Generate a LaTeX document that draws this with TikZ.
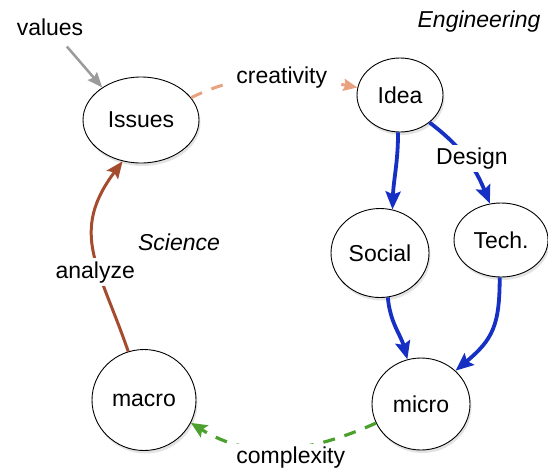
\documentclass[tikz,border=0pt]{standalone}
\usepackage{fontspec}
\setmainfont{Liberation Sans}
\usepackage{tikz}
\usetikzlibrary{shapes,arrows.meta,shadows}
\definecolor{flowblue}{RGB}{22,48,196}
\definecolor{rust}{RGB}{165,76,46}
\definecolor{salmon}{RGB}{232,162,128}
\definecolor{leaf}{RGB}{76,160,46}
\definecolor{ash}{RGB}{155,155,155}

\begin{document}
\begin{tikzpicture}[
    x=1pt, y=1pt,
    every node/.style={font=\fontsize{23}{27}\selectfont},
    bubble/.style={draw, ellipse, fill=white, inner sep=0pt, line width=0.9pt,
        drop shadow={opacity=0.22, shadow xshift=1.5pt, shadow yshift=-3pt}},
    lbl/.style={fill=white, inner xsep=7pt, inner ysep=3pt},
    arrow/.style={-{Stealth[length=18pt, width=15pt, inset=3pt]}, line width=3.8pt, draw=flowblue},
    analysis/.style={-{Stealth[length=17pt, width=14pt, inset=3pt]}, line width=3pt, draw=rust},
    spark/.style={-{Stealth[length=14pt, width=12pt, inset=2pt]}, line width=3pt, draw=salmon, dash pattern=on 12pt off 10pt},
    cascade/.style={-{Stealth[length=16pt, width=14pt, inset=3pt]}, line width=3.2pt, draw=leaf, dash pattern=on 12pt off 10pt},
    valuein/.style={-{Stealth[length=15pt, width=12pt, inset=2pt]}, line width=2.5pt, draw=ash, shorten <=10pt}
]
\useasboundingbox (0,0) rectangle (548,-472);

% Bubbles
\node[bubble, minimum width=116pt, minimum height=86pt] (issues) at (141,-120) {Issues};
\node[bubble, minimum width=86pt, minimum height=74pt] (idea) at (400,-95) {Idea};
\node[bubble, minimum width=98pt, minimum height=89pt] (social) at (380,-253) {Social};
\node[bubble, minimum width=94pt, minimum height=74pt] (tech) at (501,-240) {Tech.};
\node[bubble, minimum width=104pt, minimum height=101pt] (macro) at (144,-400) {macro};
\node[bubble, minimum width=98pt, minimum height=92pt] (micro) at (421,-404) {micro};

% Texts
\node (values) at (50,-27) {values};
\node[font=\fontsize{23}{27}\selectfont\itshape] (engineering) at (479,-22) {Engineering};
\node[font=\fontsize{23}{27}\selectfont\itshape] (science) at (179,-242) {Science};

% Connections
\draw[valuein] (values) -- (issues.140);
\draw[spark] (issues.24) to[out=26, in=169] node[lbl, pos=0.56] (creativity) {creativity} (idea.170);
\draw[arrow] (idea.-93) to[out=-90, in=88] (social.74);
\draw[arrow] (idea.-43) to[out=-37, in=112] node[lbl, inner xsep=2pt, pos=0.5, xshift=6pt] (design) {Design} (tech.107);
\draw[arrow] (social.-80) to[out=-85, in=105] (micro.107);
\draw[arrow] (tech.-92) to[out=-90, in=40, looseness=1.2] (micro.44);
\draw[cascade] (micro.203) to[out=204, in=-32] node[lbl, pos=0.45, yshift=-10pt] (complexity) {complexity} (macro.-26);
\draw[analysis] (macro.108) to[out=109, in=233, looseness=1.2] node[lbl, inner xsep=2pt, pos=0.38, xshift=-4pt] (analyze) {analyze} (issues.-114);

\end{tikzpicture}
\end{document}
